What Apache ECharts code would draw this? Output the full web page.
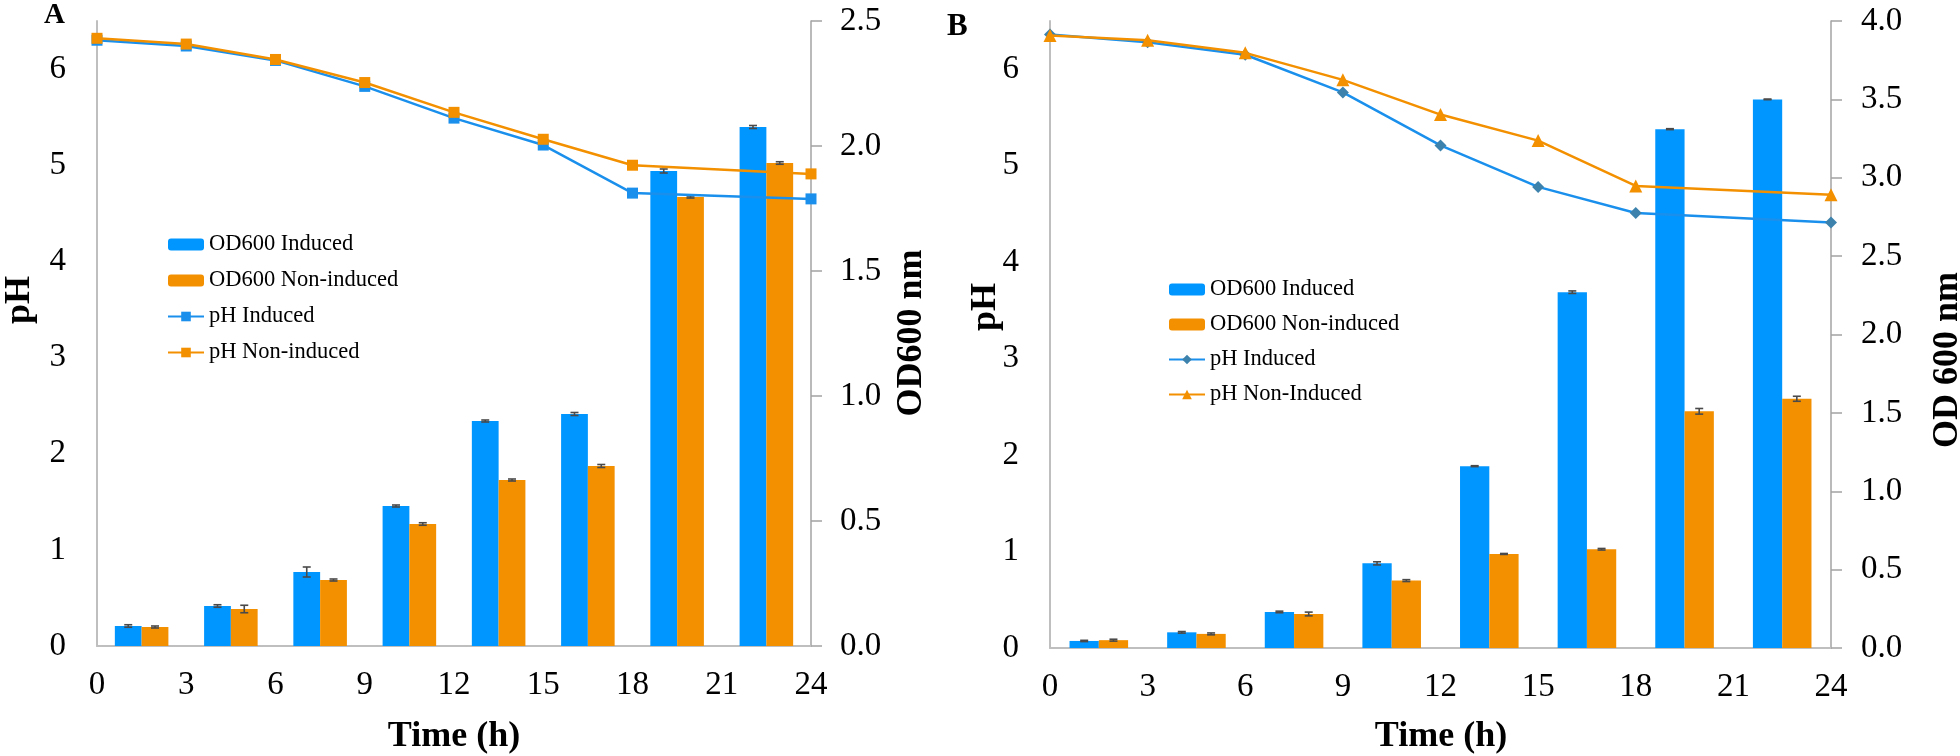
<!DOCTYPE html>
<html>
<head>
<meta charset="utf-8">
<script src="https://cdn.jsdelivr.net/npm/echarts@6/dist/echarts.min.js"></script>
<style>
html,body{margin:0;padding:0;background:#fff;}
#chart{width:1960px;height:756px;}
</style>
</head>
<body>
<div id="chart"></div>
<script>
// ---------- data ----------
var barCategories = ['1', '2', '3', '4', '5', '6', '7', '8'];
var phTimes = [0, 3, 6, 9, 12, 15, 18, 24];
var xTickLabels = ['0', '3', '6', '9', '12', '15', '18', '21', '24'];

// Panel A
var odA_induced = [0.08, 0.16, 0.296, 0.56, 0.90, 0.928, 1.90, 2.076];
var odA_induced_err = [0.005, 0.005, 0.02, 0.004, 0.004, 0.006, 0.008, 0.006];
var odA_non = [0.076, 0.148, 0.264, 0.488, 0.664, 0.72, 1.796, 1.932];
var odA_non_err = [0.004, 0.015, 0.004, 0.005, 0.004, 0.006, 0.004, 0.005];
var phA_induced = [6.30, 6.24, 6.09, 5.82, 5.49, 5.21, 4.71, 4.65];
var phA_non = [6.32, 6.26, 6.10, 5.86, 5.55, 5.27, 5.00, 4.91];

// Panel B
var odB_induced = [0.045, 0.10, 0.23, 0.54, 1.16, 2.27, 3.31, 3.50];
var odB_induced_err = [0.004, 0.005, 0.005, 0.01, 0.003, 0.008, 0.003, 0.002];
var odB_non = [0.05, 0.09, 0.217, 0.43, 0.60, 0.63, 1.51, 1.59];
var odB_non_err = [0.006, 0.006, 0.012, 0.006, 0.003, 0.005, 0.018, 0.016];
var phB_induced = [6.36, 6.28, 6.15, 5.76, 5.21, 4.78, 4.51, 4.41];
var phB_non = [6.35, 6.30, 6.17, 5.89, 5.53, 5.26, 4.79, 4.70];

// ---------- styles ----------
var FONT = '"Liberation Serif", "Times New Roman", serif';
var BLUE = '#0096ff';
var BLUE_LINE = '#1a90ec';
var ORANGE = '#f39000';
var DIAMOND = '#3d82ad';
var AXIS_LIGHT = '#bfbfbf';
var AXIS_DARK = '#a3a3a3';
var TICK_SIZE = 33;

function pairs(xs, ys) { return xs.map(function (x, i) { return [x, ys[i]]; }); }
function errData(vals, errs) { return vals.map(function (v, i) { return [i, v, errs[i]]; }); }

function errSeries(xIdx, yIdx, vals, errs, side) {
  return {
    type: 'custom', xAxisIndex: xIdx, yAxisIndex: yIdx, z: 5, silent: true,
    data: errData(vals, errs),
    renderItem: function (params, api) {
      var cat = api.value(0), v = api.value(1), e = api.value(2);
      var bw = api.size([1, 0])[0];
      var c = api.coord([cat, v]);
      var x = c[0] + side * bw * 0.15;
      var top = api.coord([cat, v + e])[1];
      var bot = api.coord([cat, v - e])[1];
      var st = { stroke: '#4a4a4a', lineWidth: 1.6 };
      return {
        type: 'group', children: [
          { type: 'line', shape: { x1: x, y1: top, x2: x, y2: bot }, style: st },
          { type: 'line', shape: { x1: x - 4, y1: top, x2: x + 4, y2: top }, style: st },
          { type: 'line', shape: { x1: x - 4, y1: bot, x2: x + 4, y2: bot }, style: st }
        ]
      };
    }
  };
}

function xValueAxis(grid) {
  return {
    type: 'value', gridIndex: grid, min: 0, max: 24, interval: 3, position: 'bottom',
    axisLine: { show: true, lineStyle: { color: AXIS_LIGHT, width: 2 } },
    axisTick: { show: false }, splitLine: { show: false },
    axisLabel: { color: '#000', fontFamily: FONT, fontSize: TICK_SIZE, margin: 23,
      formatter: function (v) { return xTickLabels[Math.round(v / 3)]; } }
  };
}
function xCatAxis(grid) {
  return { type: 'category', gridIndex: grid, data: barCategories, show: false, boundaryGap: true };
}
function phAxis(grid, margin) {
  return {
    type: 'value', gridIndex: grid, position: 'left', min: 0, max: 6.5, interval: 1,
    axisLine: { show: true, lineStyle: { color: AXIS_LIGHT, width: 2 } },
    axisTick: { show: false }, splitLine: { show: false },
    axisLabel: { color: '#000', fontFamily: FONT, fontSize: TICK_SIZE, margin: margin, showMaxLabel: false,
      formatter: function (v) { return (Math.abs(v - Math.round(v)) < 1e-6) ? String(Math.round(v)) : ''; } }
  };
}
function odAxis(grid, max, margin) {
  return {
    type: 'value', gridIndex: grid, position: 'right', min: 0, max: max, interval: 0.5,
    axisLine: { show: true, lineStyle: { color: AXIS_DARK, width: 1.5 } },
    axisTick: { show: true, inside: false, length: 11, lineStyle: { color: AXIS_DARK, width: 1.5 } },
    splitLine: { show: false },
    axisLabel: { color: '#000', fontFamily: FONT, fontSize: TICK_SIZE, margin: margin,
      formatter: function (v) { return v.toFixed(1); } }
  };
}

var chart = echarts.init(document.getElementById('chart'), null, { renderer: 'canvas' });

var legendText = { fontFamily: FONT, fontSize: 22.5, color: '#000' };

var option = {
  animation: false,
  backgroundColor: '#fff',
  grid: [
    { left: 97, top: 21, width: 714, height: 625 },
    { left: 1050, top: 21, width: 781, height: 627 }
  ],
  xAxis: [xCatAxis(0), xValueAxis(0), xCatAxis(1), xValueAxis(1)],
  yAxis: [phAxis(0, 31), odAxis(0, 2.5, 29), phAxis(1, 31), odAxis(1, 4, 30)],
  legend: [
    {
      left: 162, top: 228, orient: 'vertical', itemWidth: 36, itemHeight: 12, itemGap: 13,
      textStyle: legendText, selectedMode: false,
      formatter: function (n) { return n.slice(2); },
      data: ['A OD600 Induced', 'A OD600 Non-induced', 'A pH Induced', 'A pH Non-induced']
    },
    {
      left: 1163, top: 273, orient: 'vertical', itemWidth: 36, itemHeight: 12, itemGap: 12,
      textStyle: legendText, selectedMode: false,
      formatter: function (n) { return n.slice(2); },
      data: ['B OD600 Induced', 'B OD600 Non-induced', 'B pH Induced', 'B pH Non-Induced']
    }
  ],
  graphic: [
    { type: 'text', left: 44, top: 1, style: { text: 'A', font: 'bold 29px ' + FONT, fill: '#000' } },
    { type: 'text', left: 947, top: 11, style: { text: 'B', font: 'bold 31px ' + FONT, fill: '#000' } },
    { type: 'text', x: 20, y: 300, rotation: Math.PI / 2,
      style: { text: 'pH', font: 'bold 36px ' + FONT, fill: '#000', align: 'center', verticalAlign: 'middle' } },
    { type: 'text', x: 912, y: 333, rotation: Math.PI / 2,
      style: { text: 'OD600 nm', font: 'bold 36px ' + FONT, fill: '#000', align: 'center', verticalAlign: 'middle' } },
    { type: 'text', x: 454, y: 737,
      style: { text: 'Time (h)', font: 'bold 36px ' + FONT, fill: '#000', align: 'center', verticalAlign: 'middle' } },
    { type: 'text', x: 986, y: 307, rotation: Math.PI / 2,
      style: { text: 'pH', font: 'bold 36px ' + FONT, fill: '#000', align: 'center', verticalAlign: 'middle' } },
    { type: 'text', x: 1948, y: 360, rotation: Math.PI / 2,
      style: { text: 'OD 600 nm', font: 'bold 36px ' + FONT, fill: '#000', align: 'center', verticalAlign: 'middle' } },
    { type: 'text', x: 1441, y: 737,
      style: { text: 'Time (h)', font: 'bold 36px ' + FONT, fill: '#000', align: 'center', verticalAlign: 'middle' } }
  ],
  series: [
    // Panel A bars
    { name: 'A OD600 Induced', type: 'bar', xAxisIndex: 0, yAxisIndex: 1, data: odA_induced,
      barGap: '0%', barCategoryGap: '40%', itemStyle: { color: BLUE }, z: 2 },
    { name: 'A OD600 Non-induced', type: 'bar', xAxisIndex: 0, yAxisIndex: 1, data: odA_non,
      barGap: '0%', barCategoryGap: '40%', itemStyle: { color: ORANGE }, z: 2 },
    errSeries(0, 1, odA_induced, odA_induced_err, -1),
    errSeries(0, 1, odA_non, odA_non_err, 1),
    // Panel A lines
    { name: 'A pH Induced', type: 'line', xAxisIndex: 1, yAxisIndex: 0, data: pairs(phTimes, phA_induced),
      symbol: 'rect', symbolSize: 11, lineStyle: { color: BLUE_LINE, width: 2.5 },
      itemStyle: { color: BLUE_LINE }, z: 6 },
    { name: 'A pH Non-induced', type: 'line', xAxisIndex: 1, yAxisIndex: 0, data: pairs(phTimes, phA_non),
      symbol: 'rect', symbolSize: 11, lineStyle: { color: ORANGE, width: 2.5 },
      itemStyle: { color: ORANGE }, z: 7 },
    // Panel B bars
    { name: 'B OD600 Induced', type: 'bar', xAxisIndex: 2, yAxisIndex: 3, data: odB_induced,
      barGap: '0%', barCategoryGap: '40%', itemStyle: { color: BLUE }, z: 2 },
    { name: 'B OD600 Non-induced', type: 'bar', xAxisIndex: 2, yAxisIndex: 3, data: odB_non,
      barGap: '0%', barCategoryGap: '40%', itemStyle: { color: ORANGE }, z: 2 },
    errSeries(2, 3, odB_induced, odB_induced_err, -1),
    errSeries(2, 3, odB_non, odB_non_err, 1),
    // Panel B lines
    { name: 'B pH Induced', type: 'line', xAxisIndex: 3, yAxisIndex: 2, data: pairs(phTimes, phB_induced),
      symbol: 'diamond', symbolSize: 12, lineStyle: { color: BLUE_LINE, width: 2.5 },
      itemStyle: { color: DIAMOND }, z: 6 },
    { name: 'B pH Non-Induced', type: 'line', xAxisIndex: 3, yAxisIndex: 2, data: pairs(phTimes, phB_non),
      symbol: 'triangle', symbolSize: 13, lineStyle: { color: ORANGE, width: 2.5 },
      itemStyle: { color: ORANGE }, z: 7 }
  ]
};
chart.setOption(option);
</script>
</body>
</html>
